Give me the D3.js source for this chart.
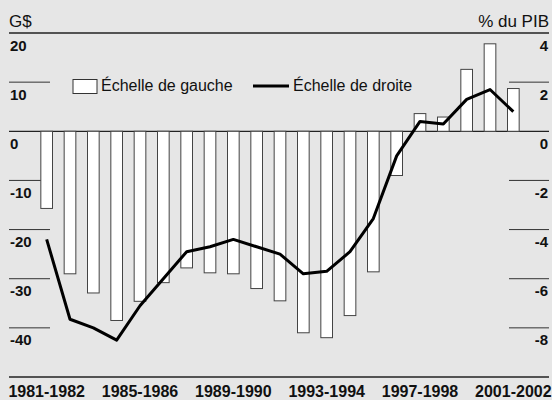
<!DOCTYPE html>
<html>
<head>
<meta charset="utf-8">
<script src="https://cdn.jsdelivr.net/npm/d3@7"></script>
<style>
  body { margin: 0; background: #e6e6e6; }
  svg { display: block; font-family: "Liberation Sans", Arial, sans-serif; }
  .tick-label { font-weight: bold; font-size: 15px; fill: #111; }
  .year-label { font-weight: bold; font-size: 16px; fill: #111; }
</style>
</head>
<body>
<svg id="chart"></svg>
<script>
// fiscal years, bars in G$ (left), line in % du PIB (right)
const years = ["1981-1982","1982-1983","1983-1984","1984-1985","1985-1986","1986-1987",
  "1987-1988","1988-1989","1989-1990","1990-1991","1991-1992","1992-1993","1993-1994",
  "1994-1995","1995-1996","1996-1997","1997-1998","1998-1999","1999-2000","2000-2001","2001-2002"];
const balanceGS = [-15.7, -29.0, -32.9, -38.5, -34.6, -30.8, -27.8, -28.8, -29.0, -32.0, -34.5,
  -41.0, -42.0, -37.5, -28.6, -9.0, 3.6, 2.9, 12.6, 17.8, 8.7];
const balancePIB = [-4.4, -7.65, -8.0, -8.5, -7.1, -6.0, -4.9, -4.7, -4.4, -4.7, -5.0,
  -5.8, -5.7, -4.9, -3.55, -1.0, 0.4, 0.3, 1.3, 1.7, 0.8];
const leftTicks = [20, 10, 0, -10, -20, -30, -40];
const rightTicks = [4, 2, 0, -2, -4, -6, -8];
const yearLabels = ["1981-1982","1985-1986","1989-1990","1993-1994","1997-1998","2001-2002"];

const width = 552, height = 400;
const svg = d3.select("#chart").attr("width", width).attr("height", height);

const x = d3.scaleBand().domain(years).range([35, 525]).paddingInner(0.5).paddingOuter(0.25);
const yL = d3.scaleLinear().domain([-50, 20]).range([377, 33]);
const yR = d3.scaleLinear().domain([-10, 4]).range([377, 33]);

// frame lines
svg.append("line").attr("x1", 9).attr("x2", 549).attr("y1", yL(20)).attr("y2", yL(20))
  .attr("stroke", "#222").attr("stroke-width", 1.5);
svg.append("line").attr("x1", 9).attr("x2", 549).attr("y1", yL(-50)).attr("y2", yL(-50))
  .attr("stroke", "#222").attr("stroke-width", 1.5);

// left ticks
svg.selectAll("line.ltick").data(leftTicks.filter(d => d !== 20 && d !== 0)).join("line")
  .attr("class", "ltick")
  .attr("x1", 9).attr("x2", 50)
  .attr("y1", d => yL(d)).attr("y2", d => yL(d))
  .attr("stroke", "#333").attr("stroke-width", 1);
svg.selectAll("text.ltl").data(leftTicks).join("text")
  .attr("class", "tick-label ltl")
  .attr("x", 10).attr("y", d => yL(d) + 17.5)
  .text(d => d);

// right ticks
svg.selectAll("line.rtick").data(rightTicks.filter(d => d !== 4 && d !== 0)).join("line")
  .attr("class", "rtick")
  .attr("x1", 509).attr("x2", 549)
  .attr("y1", d => yR(d)).attr("y2", d => yR(d))
  .attr("stroke", "#333").attr("stroke-width", 1);
svg.selectAll("text.rtl").data(rightTicks).join("text")
  .attr("class", "tick-label rtl")
  .attr("x", 548).attr("y", d => yR(d) + 17.5)
  .attr("text-anchor", "end")
  .text(d => d);

// zero line
svg.append("line").attr("x1", 9).attr("x2", 549).attr("y1", yL(0)).attr("y2", yL(0))
  .attr("stroke", "#222").attr("stroke-width", 1.2);

// units
svg.append("text").attr("x", 9).attr("y", 27).attr("font-size", 17).attr("fill", "#111").text("G$");
svg.append("text").attr("x", 549).attr("y", 27).attr("font-size", 17).attr("fill", "#111")
  .attr("text-anchor", "end").text("% du PIB");

// bars
svg.selectAll("rect.bar").data(years).join("rect")
  .attr("class", "bar")
  .attr("x", d => x(d))
  .attr("width", x.bandwidth())
  .attr("y", (d, i) => yL(Math.max(0, balanceGS[i])))
  .attr("height", (d, i) => Math.abs(yL(balanceGS[i]) - yL(0)))
  .attr("fill", "#fff").attr("stroke", "#444").attr("stroke-width", 1);

// line
const line = d3.line()
  .x((d, i) => x(years[i]) + x.bandwidth() / 2)
  .y(d => yR(d));
svg.append("path").datum(balancePIB)
  .attr("d", line)
  .attr("fill", "none").attr("stroke", "#000").attr("stroke-width", 3)
  .attr("stroke-linejoin", "round");

// year labels
svg.selectAll("text.year").data(yearLabels).join("text")
  .attr("class", "year-label year")
  .attr("x", d => x(d) + x.bandwidth() / 2)
  .attr("y", 397)
  .attr("text-anchor", "middle")
  .text(d => d);

// legend
const lg = svg.append("g").attr("font-size", 16).attr("fill", "#111");
lg.append("rect").attr("x", 73).attr("y", 79.5).attr("width", 24).attr("height", 14)
  .attr("fill", "#fff").attr("stroke", "#333").attr("stroke-width", 1);
lg.append("text").attr("x", 101).attr("y", 91).text("Échelle de gauche");
lg.append("line").attr("x1", 253).attr("x2", 289).attr("y1", 86).attr("y2", 86)
  .attr("stroke", "#000").attr("stroke-width", 3);
lg.append("text").attr("x", 293).attr("y", 91).text("Échelle de droite");
</script>
</body>
</html>
